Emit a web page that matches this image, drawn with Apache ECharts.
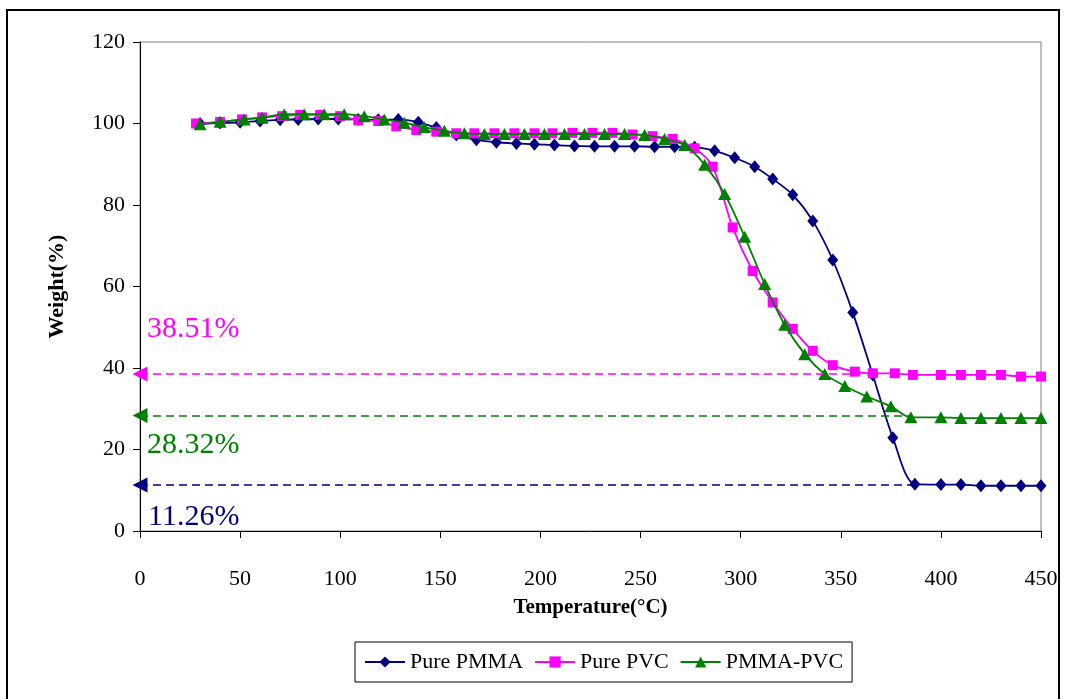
<!DOCTYPE html>
<html>
<head>
<meta charset="utf-8">
<title>TGA curves</title>
<script src="https://cdn.jsdelivr.net/npm/echarts@6/dist/echarts.min.js"></script>
<style>
  html, body { margin: 0; padding: 0; background: #ffffff; }
  #chart { width: 1066px; height: 699px; }
</style>
</head>
<body>
<div id="chart"></div>
<script>
// Thermogravimetric curves: weight (%) against temperature (°C)
const seriesNames = ['Pure PMMA', 'Pure PVC', 'PMMA-PVC'];
const seriesColors = ['#000080', '#FF00FF', '#008000'];

const pmmaTemp = [30, 40, 50, 60, 70, 79, 89, 99, 109, 119, 129, 139, 148, 158, 168, 178, 188, 197, 207, 217,
  227, 237, 247, 257, 267, 277, 287, 297, 307, 316, 326, 336, 346, 356, 366, 376, 387, 400, 410, 420, 430, 440, 450];
const pmmaWeight = [100.0, 100.1, 100.3, 100.6, 100.9, 101.0, 101.1, 101.1, 101.0, 100.9, 101.0, 100.3, 99.0, 97.2, 96.0, 95.4, 95.1, 94.9, 94.7, 94.5,
  94.4, 94.4, 94.4, 94.3, 94.3, 94.2, 93.3, 91.6, 89.4, 86.4, 82.5, 76.1, 66.5, 53.6, 38.3, 22.9, 11.5, 11.4, 11.4, 11.1, 11.1, 11.1, 11.1];

const pvcTemp = [28, 40, 51, 61, 71, 80, 90, 100, 109, 119, 128, 138, 148, 158, 167, 177, 187, 197, 206, 216,
  226, 236, 246, 256, 266, 277, 286, 296, 306, 316, 326, 336, 346, 357, 366, 377, 386, 400, 410, 420, 430, 440, 450];
const pvcWeight = [100.0, 100.4, 101.0, 101.5, 101.8, 102.1, 102.1, 101.8, 100.8, 100.6, 99.3, 98.4, 98.0, 97.6, 97.6, 97.6, 97.6, 97.6, 97.6, 97.7,
  97.7, 97.7, 97.3, 96.9, 96.2, 93.9, 89.4, 74.5, 63.8, 56.1, 49.6, 44.2, 40.7, 39.1, 38.7, 38.7, 38.3, 38.3, 38.3, 38.3, 38.3, 37.9, 37.9];

const blendTemp = [30, 40, 52, 61, 72, 82, 92, 102, 112, 122, 132, 142, 152, 162, 172, 182, 192, 202, 212, 222,
  232, 242, 252, 262, 272, 282, 292, 302, 312, 322, 332, 342, 352, 363, 375, 385, 400, 410, 420, 430, 440, 450];
const blendWeight = [99.8, 100.4, 101.0, 101.4, 102.3, 102.3, 102.3, 102.3, 101.8, 101.0, 100.2, 99.1, 98.2, 97.6, 97.4, 97.4, 97.4, 97.4, 97.4, 97.4,
  97.4, 97.4, 97.2, 96.2, 94.7, 89.9, 82.7, 72.2, 60.6, 50.6, 43.4, 38.5, 35.6, 33.0, 30.6, 27.9, 27.9, 27.7, 27.7, 27.7, 27.7, 27.7];

// Residual weights marked by dashed guide lines, and where each guide stops
const residueValues = [11.26, 38.51, 28.32];
const residueLabels = ['11.26%', '38.51%', '28.32%'];
const guideEndTemp = [387, 360, 385];

const xTicks = { min: 0, max: 450, interval: 50 };
const yTicks = { min: 0, max: 120, interval: 20 };

const serif = "'Liberation Serif', 'Times New Roman', serif";

function pairs(xs, ys) {
  return xs.map((x, i) => [x, ys[i]]);
}

// label placement of each residue annotation: above or below its guide
const labelPlacement = [
  { position: 'insideStartBottom', distance: [8, 17] },
  { position: 'insideStartTop', distance: [7, 30] },
  { position: 'insideStartBottom', distance: [7, 15] }
];

function guide(i) {
  return {
    silent: true,
    animation: false,
    symbol: ['triangle', 'none'],
    symbolSize: [15, 15],
    symbolOffset: [0, 4],
    lineStyle: { type: [8, 5], width: 1.5, color: seriesColors[i] },
    itemStyle: { color: seriesColors[i] },
    label: {
      show: true,
      formatter: residueLabels[i],
      position: labelPlacement[i].position,
      distance: labelPlacement[i].distance,
      color: seriesColors[i],
      fontFamily: serif,
      fontSize: 30
    },
    emphasis: { disabled: true },
    data: [[{ coord: [0, residueValues[i]] }, { coord: [guideEndTemp[i], residueValues[i]] }]]
  };
}

const symbols = ['diamond', 'rect', 'triangle'];
const symbolSizes = [[11, 13], [10, 10], [13, 12]];
const dataSets = [pairs(pmmaTemp, pmmaWeight), pairs(pvcTemp, pvcWeight), pairs(blendTemp, blendWeight)];

const chart = echarts.init(document.getElementById('chart'), null, { renderer: 'canvas' });

chart.setOption({
  animation: false,
  backgroundColor: '#ffffff',
  textStyle: { fontFamily: serif, color: '#000' },
  graphic: [{
    type: 'rect',
    shape: { x: 7, y: 10, width: 1052, height: 700 },
    style: { fill: 'none', stroke: '#000', lineWidth: 2 },
    silent: true,
    z: -1
  }],
  grid: {
    left: 140, right: 25, top: 42, bottom: 168,
    show: true, borderColor: '#808080', borderWidth: 1, backgroundColor: 'transparent'
  },
  legend: {
    data: seriesNames,
    left: 355,
    top: 642,
    padding: [9, 9],
    itemGap: 11,
    itemWidth: 40,
    itemHeight: 14,
    borderColor: '#000',
    borderWidth: 1,
    textStyle: { fontFamily: serif, fontSize: 22, color: '#000' }
  },
  xAxis: {
    type: 'value',
    min: xTicks.min, max: xTicks.max, interval: xTicks.interval,
    name: 'Temperature(°C)',
    nameLocation: 'middle',
    nameGap: 66,
    nameTextStyle: { fontFamily: serif, fontSize: 21, fontWeight: 'bold', color: '#000' },
    axisLine: { onZero: false, lineStyle: { color: '#000', width: 1 } },
    axisTick: { show: true, inside: false, length: 7, lineStyle: { color: '#000' } },
    axisLabel: { margin: 37, fontFamily: serif, fontSize: 22, color: '#000' },
    splitLine: { show: false }
  },
  yAxis: {
    type: 'value',
    min: yTicks.min, max: yTicks.max, interval: yTicks.interval,
    name: 'Weight(%)',
    nameLocation: 'middle',
    nameGap: 72,
    nameTextStyle: { fontFamily: serif, fontSize: 22, fontWeight: 'bold', color: '#000' },
    axisLine: { show: true, onZero: false, lineStyle: { color: '#000', width: 1 } },
    axisTick: { show: true, inside: false, length: 7, lineStyle: { color: '#000' } },
    axisLabel: { margin: 15, fontFamily: serif, fontSize: 22, color: '#000' },
    splitLine: { show: false }
  },
  series: seriesNames.map((name, i) => ({
    name: name,
    type: 'line',
    data: dataSets[i],
    smooth: 0.3,
    symbol: symbols[i],
    symbolSize: symbolSizes[i],
    showSymbol: true,
    color: seriesColors[i],
    lineStyle: { color: seriesColors[i], width: 1.8 },
    itemStyle: { color: seriesColors[i] },
    z: 2 + i,
    markLine: guide(i)
  }))
});
</script>
</body>
</html>
